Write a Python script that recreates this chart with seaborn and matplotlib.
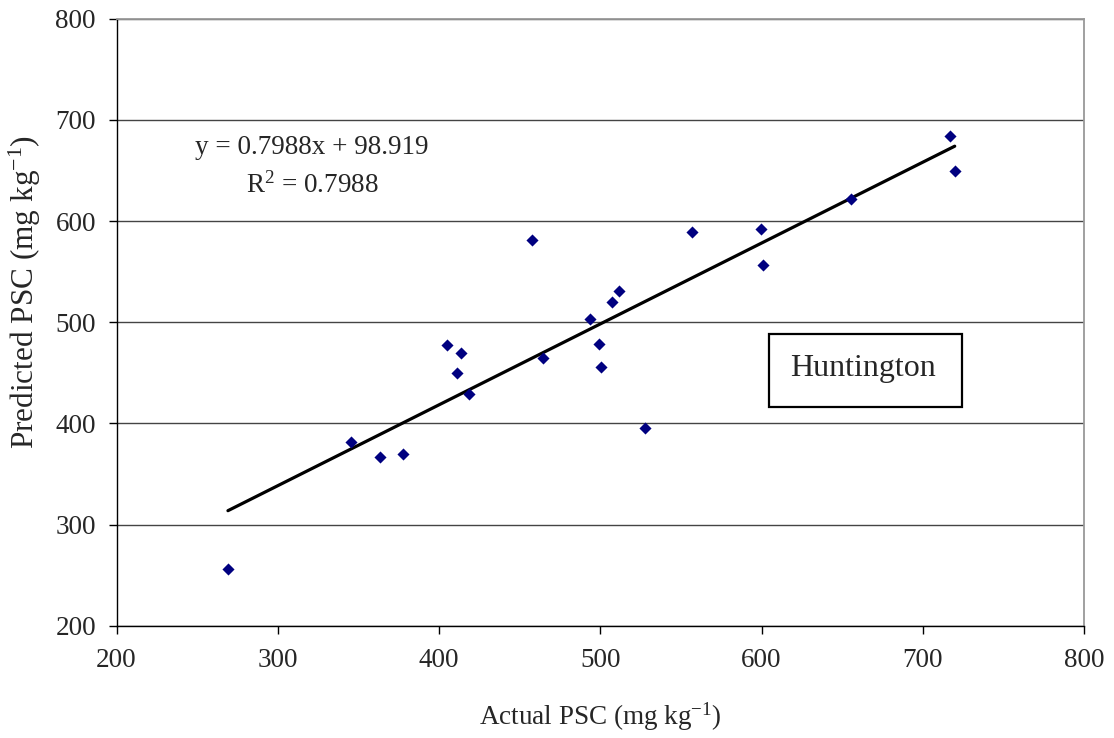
import numpy as np
import pandas as pd
import matplotlib
matplotlib.use("Agg")
import matplotlib.pyplot as plt
from matplotlib.patches import Rectangle
import seaborn as sns

# Data
actual_psc = [269.1, 345.2, 363.6, 377.9, 405.1, 413.6, 411.2, 418.6, 457.7, 464.3, 493.8,
              499.0, 500.6, 507.3, 511.4, 528.0, 556.7, 599.9, 600.7, 655.3, 716.7, 719.8]
predicted_psc = [256.3, 381.4, 367.2, 370.2, 477.5, 469.6, 449.6, 429.4, 581.2, 465.0, 503.2,
                 478.8, 455.5, 520.3, 530.6, 395.3, 589.4, 592.1, 556.3, 622.0, 684.2, 649.1]
slope = 0.7988
intercept = 98.919
r_squared = 0.7988
site_label = "Huntington"
x_ticks = [200, 300, 400, 500, 600, 700, 800]
y_ticks = [200, 300, 400, 500, 600, 700, 800]

df = pd.DataFrame({"actual": actual_psc, "predicted": predicted_psc})
xfit = np.array([min(actual_psc), max(actual_psc)])
fit_df = pd.DataFrame({"x": xfit, "y": slope * xfit + intercept})

sns.set_style("white")
plt.rcParams["font.family"] = ["Liberation Serif", "DejaVu Serif"]
plt.rcParams["mathtext.fontset"] = "custom"
plt.rcParams["mathtext.rm"] = "Liberation Serif"
plt.rcParams["mathtext.it"] = "Liberation Serif:italic"

fig = plt.figure(figsize=(11.14, 7.38), dpi=100)
ax = fig.add_axes([0.1046, 0.1518, 0.8685, 0.8231])

sns.lineplot(data=fit_df, x="x", y="y", ax=ax, color="black", linewidth=2.3, zorder=3)
sns.scatterplot(data=df, x="actual", y="predicted", ax=ax, marker="D", s=38,
                color="#000080", edgecolor="#000080", linewidth=0, zorder=4)

ax.set_xlim(200, 800)
ax.set_ylim(200, 800)
ax.set_xticks(x_ticks)
ax.set_yticks(y_ticks)
ax.tick_params(axis="both", which="major", labelsize=19.5, direction="out", length=5.8,
               width=1, color="black", bottom=True, left=True)
ax.tick_params(axis="x", pad=10)
ax.tick_params(axis="y", pad=9)
ax.yaxis.grid(True, color="#444444", linewidth=1)
ax.xaxis.grid(False)
ax.set_axisbelow(True)
for side in ["top", "right"]:
    ax.spines[side].set_color("#999999")
    ax.spines[side].set_linewidth(1.3)
for side in ["left", "bottom"]:
    ax.spines[side].set_color("black")
    ax.spines[side].set_linewidth(1)

ax.set_xlabel(r"Actual PSC (mg kg$^{\mathregular{-1}}$)", fontsize=19.5, labelpad=20)
ax.set_ylabel(r"Predicted PSC (mg kg$^{\mathregular{-1}}$)", fontsize=22.5)
ax.yaxis.set_label_coords(-0.076, 0.55)

ax.text(0.202, 0.788, f"y = {slope}x + {intercept}", transform=ax.transAxes,
        ha="center", va="center", fontsize=19.5)
ax.text(0.202, 0.726, r"R$^{\mathregular{2}}$ = " + f"{r_squared}", transform=ax.transAxes,
        ha="center", va="center", fontsize=19.5)

ax.add_patch(Rectangle((0.6744, 0.3605), 0.1995, 0.1202, transform=ax.transAxes,
                       facecolor="white", edgecolor="black", linewidth=1.6, zorder=5))
ax.text(0.772, 0.4235, site_label, transform=ax.transAxes, ha="center", va="center",
        fontsize=23, zorder=6)

fig.savefig("out.png", dpi=100)
